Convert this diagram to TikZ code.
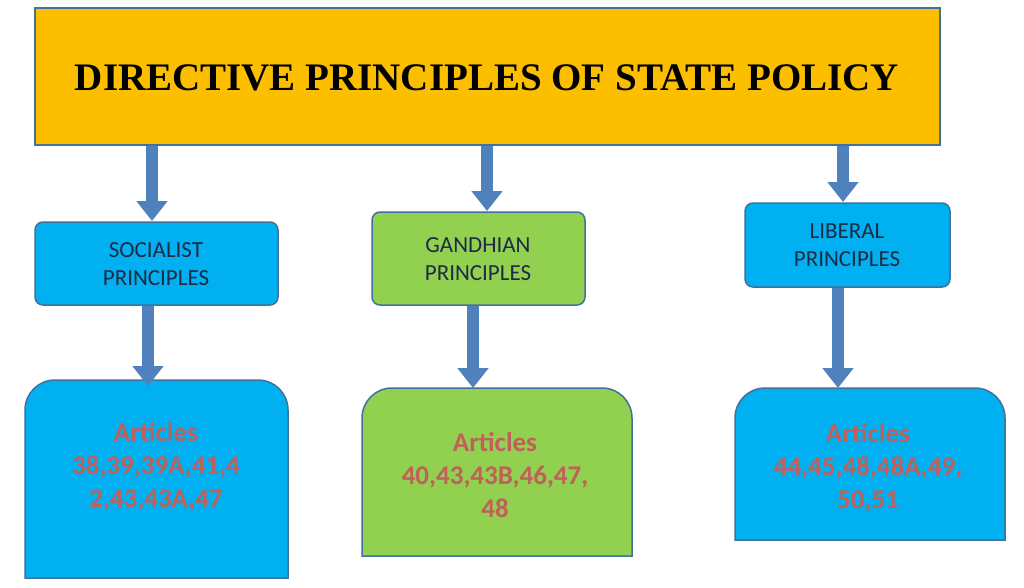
\documentclass[tikz,border=0pt]{standalone}
\usepackage{fontspec}
\setmainfont{Carlito}
\newfontfamily\titlefont{Liberation Serif}
\usetikzlibrary{arrows.meta}
\definecolor{orng}{HTML}{FBBF00}
\definecolor{cyanb}{HTML}{00B0F0}
\definecolor{grn}{HTML}{92D050}
\definecolor{arr}{HTML}{4F81BD}
\definecolor{brd}{HTML}{41719C}
\definecolor{art}{HTML}{C0605A}
\definecolor{dk}{HTML}{1F2A44}
\tikzset{
 blk/.style={draw=brd,line width=1.5pt,rounded corners=8pt,font=\fontsize{23}{28}\selectfont,text=dk,align=center},
 artbox/.style={draw=brd,line width=1.5pt,font=\bfseries\fontsize{27}{33}\selectfont,text=art,align=center},
 bar/.style={arr,line width=12pt,-{Triangle[width=30pt,length=20pt]}}
}
\begin{document}
\begin{tikzpicture}[x=1pt,y=-1pt]
\useasboundingbox (0,0) rectangle (1024,587);
\fill[white] (0,0) rectangle (1024,587);
\draw[draw=brd,line width=1.5pt,fill=orng] (35,8) rectangle (940,145);
\node (t) at (487,78) {\titlefont\bfseries\fontsize{39}{46}\selectfont DIRECTIVE PRINCIPLES OF STATE POLICY};
% sub boxes
\draw[blk,fill=cyanb] (35,222) rectangle (278,305);
\node[blk,draw=none] (s) at (156,264) {SOCIALIST\\PRINCIPLES};
\draw[blk,fill=grn] (372,212) rectangle (585,305);
\node[blk,draw=none] (g) at (478,259) {GANDHIAN\\PRINCIPLES};
\draw[blk,fill=cyanb] (745,203) rectangle (950,287);
\node[blk,draw=none] (l) at (847,245) {LIBERAL\\PRINCIPLES};
% article boxes (rounded top)
\draw[artbox,fill=cyanb] (25,578) -- (25,410) .. controls (25,393.4) and (38.4,380) .. (55,380) -- (258,380) .. controls (274.6,380) and (288,393.4) .. (288,410) -- (288,578) -- cycle;
\node[artbox,draw=none] (sa) at (156,467) {Articles\\38,39,39A,41,4\\2,43,43A,47};
\draw[artbox,fill=grn] (362,556) -- (362,418) .. controls (362,401.4) and (375.4,388) .. (392,388) -- (602,388) .. controls (618.6,388) and (632,401.4) .. (632,418) -- (632,556) -- cycle;
\node[artbox,draw=none] (ga) at (495,475) {Articles\\40,43,43B,46,47,\\48};
\draw[artbox,fill=cyanb] (735,540) -- (735,418) .. controls (735,401.4) and (748.4,388) .. (765,388) -- (975,388) .. controls (991.6,388) and (1005,401.4) .. (1005,418) -- (1005,540) -- cycle;
\node[artbox,draw=none] (la) at (868,468) {Articles\\44,45,48,48A,49,\\50,51};
% arrows
\coordinate (a1) at (152,146); \coordinate (b1) at (152,221);
\coordinate (a2) at (487,146); \coordinate (b2) at (487,211);
\coordinate (a3) at (843,146); \coordinate (b3) at (843,202);
\coordinate (c1) at (148,306); \coordinate (d1) at (148,386);
\coordinate (c2) at (473,306); \coordinate (d2) at (473,388);
\coordinate (c3) at (838,288); \coordinate (d3) at (838,388);
\foreach \p/\q in {a1/b1,a2/b2,a3/b3,c1/d1,c2/d2,c3/d3} \draw[bar] (\p) -- (\q);
\end{tikzpicture}
\end{document}
